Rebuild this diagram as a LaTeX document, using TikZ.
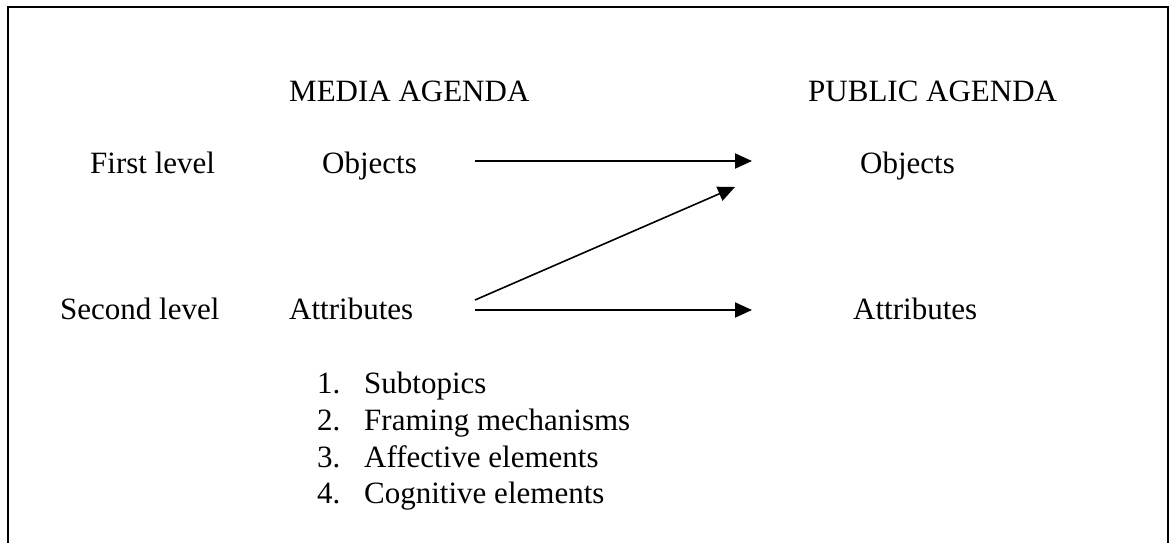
\documentclass[tikz,border=0pt]{standalone}
\usepackage{fontspec}
\setmainfont{Liberation Serif}
\usetikzlibrary{arrows.meta}
\begin{document}
\begin{tikzpicture}[x=1pt,y=-1pt,
  lbl/.style={anchor=base west,inner sep=0pt,font=\fontsize{31}{36}\selectfont},
  conn/.style={line width=2pt,-{Triangle[length=17pt,width=15pt]}},
  frame/.style={line width=2.2pt}]
\useasboundingbox (0,0) rectangle (1171,543);
\draw[frame] (8,543) -- (8,7) -- (1168,7) -- (1168,543);
\node[lbl] (media) at (289,102) {MEDIA AGENDA};
\node[lbl] (public) at (808,102) {PUBLIC AGENDA};
\node[lbl] (first) at (90,173) {First level};
\node[lbl] (objL) at (322,173) {Objects};
\node[lbl] (objR) at (860,173) {Objects};
\node[lbl] (second) at (60,319) {Second level};
\node[lbl] (attL) at (289,319) {Attributes};
\node[lbl] (attR) at (853,319) {Attributes};
\node[lbl] (n1) at (317,393) {1.};
\node[lbl] (s1) at (364,393) {Subtopics};
\node[lbl] (n2) at (317,430) {2.};
\node[lbl] (s2) at (364,430) {Framing mechanisms};
\node[lbl] (n3) at (317,467) {3.};
\node[lbl] (s3) at (364,467) {Affective elements};
\node[lbl] (n4) at (317,503) {4.};
\node[lbl] (s4) at (364,503) {Cognitive elements};
\coordinate (a1s) at (475,161);
\coordinate (a1e) at (752,161);
\coordinate (a2s) at (475,310);
\coordinate (a2e) at (752,310);
\coordinate (a3s) at (475,300);
\coordinate (a3e) at (735,187);
\draw[conn] (a1s) -- (a1e);
\draw[conn] (a2s) -- (a2e);
\draw[conn,line width=1.6pt] (a3s) -- (a3e);
\end{tikzpicture}
\end{document}
